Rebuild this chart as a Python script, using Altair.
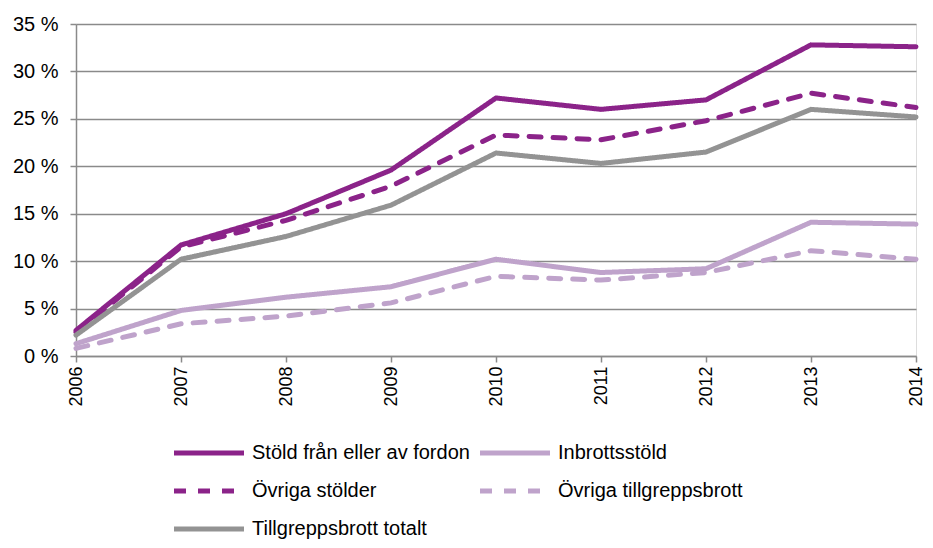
import altair as alt
import pandas as pd

years = [2006, 2007, 2008, 2009, 2010, 2011, 2012, 2013, 2014]
series_names = [
    "Stöld från eller av fordon",
    "Inbrottsstöld",
    "Övriga stölder",
    "Övriga tillgreppsbrott",
    "Tillgreppsbrott totalt",
]
stold_fordon = [2.7, 11.7, 15.0, 19.6, 27.2, 26.0, 27.0, 32.8, 32.6]
inbrott = [1.3, 4.8, 6.2, 7.3, 10.2, 8.8, 9.2, 14.1, 13.9]
ovriga_stolder = [2.5, 11.5, 14.3, 17.9, 23.3, 22.8, 24.8, 27.7, 26.2]
ovriga_tillgrepp = [0.8, 3.4, 4.2, 5.6, 8.4, 8.0, 8.8, 11.1, 10.2]
totalt = [2.2, 10.2, 12.6, 15.9, 21.4, 20.3, 21.5, 26.0, 25.2]

colors = ["#8B2389", "#BFA3CB", "#8B2389", "#BFA3CB", "#939393"]
dashes = [[1, 0], [1, 0], [12, 12], [12, 12], [1, 0]]
draw_order = [4, 1, 3, 2, 0]

rows = []
for i, vals in enumerate([stold_fordon, inbrott, ovriga_stolder, ovriga_tillgrepp, totalt]):
    for y, v in zip(years, vals):
        rows.append({"year": y, "value": v, "series": series_names[i], "order": draw_order[i]})
df = pd.DataFrame(rows)

font = "Liberation Sans"

legend = alt.Legend(orient="none", legendX=123, legendY=419, columns=2, direction="horizontal",
                    title=None, symbolType="M-7,0H7", symbolSize=100,
                    symbolStrokeWidth=5, labelFontSize=20, labelFont=font,
                    labelColor="#000", rowPadding=18, columnPadding=0,
                    labelOffset=33, labelLimit=400)

chart = alt.Chart(df).mark_line(strokeWidth=5, strokeCap="round", strokeJoin="miter").encode(
    x=alt.X("year:Q", scale=alt.Scale(domain=[2006, 2014], nice=False, zero=False),
            axis=alt.Axis(values=years, format="d", labelAngle=270, grid=False,
                          labelFontSize=18, labelFont=font, labelColor="#000",
                          domainColor="#8a8a8a", domainWidth=1.5, tickColor="#8a8a8a",
                          tickWidth=1.5, tickSize=6, labelPadding=4, title=None)),
    y=alt.Y("value:Q", scale=alt.Scale(domain=[0, 35], nice=False),
            axis=alt.Axis(values=[0, 5, 10, 15, 20, 25, 30, 35], labelExpr="datum.value + ' %'",
                          grid=True, gridColor="#8a8a8a", gridWidth=1.5,
                          labelFontSize=20, labelFont=font, labelColor="#000",
                          domainColor="#8a8a8a", domainWidth=1.5, tickColor="#8a8a8a",
                          tickWidth=1.5, tickSize=6, labelPadding=12, title=None)),
    color=alt.Color("series:N", scale=alt.Scale(domain=series_names, range=colors),
                    legend=legend),
    strokeDash=alt.StrokeDash("series:N", scale=alt.Scale(domain=series_names, range=dashes),
                              legend=legend),
    order=alt.Order("order:Q"),
    detail="series:N",
).properties(
    width=840, height=332,
    autosize=alt.AutoSizeParams(type="none"),
    padding={"left": 68, "top": 16, "right": 9, "bottom": 184},
).configure_view(stroke=None).configure(background="white")

chart.save("out.html", embed_options={"renderer": "svg", "actions": False})
